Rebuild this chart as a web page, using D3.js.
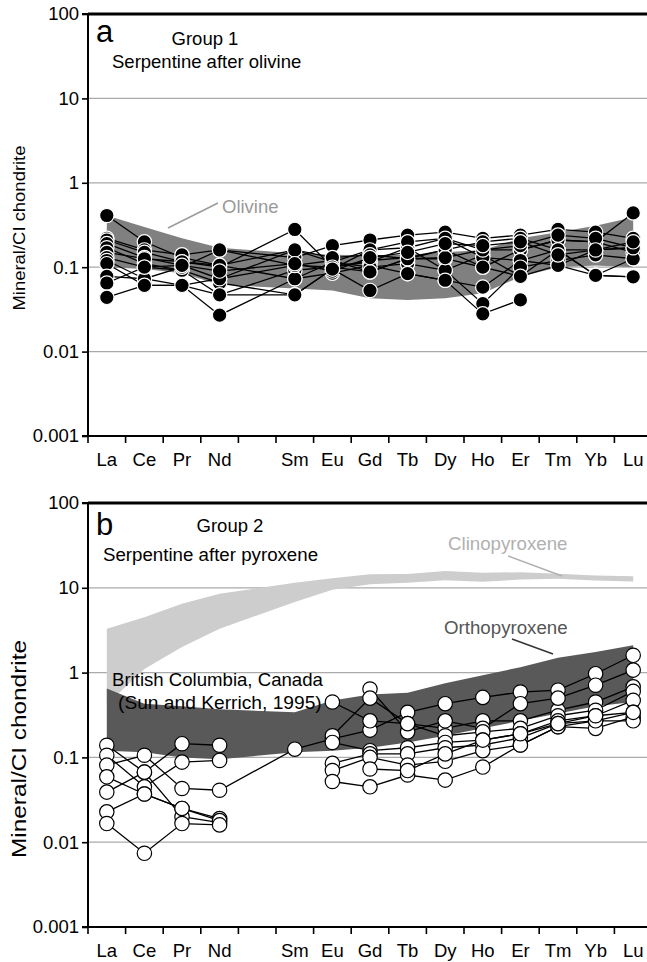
<!DOCTYPE html>
<html>
<head>
<meta charset="utf-8">
<script src="https://cdn.jsdelivr.net/npm/d3@7"></script>
<style>
body{margin:0;background:#fff}
text{font-family:"Liberation Sans",Arial,Helvetica,sans-serif}
</style>
</head>
<body>
<div id="chart"></div>
<script>
// axis slots (Pm left blank) and the elements that carry data
const slots = ["La","Ce","Pr","Nd","Pm","Sm","Eu","Gd","Tb","Dy","Ho","Er","Tm","Yb","Lu"];
const ree = ["La","Ce","Pr","Nd","Sm","Eu","Gd","Tb","Dy","Ho","Er","Tm","Yb","Lu"];
const yTicks = [0.001, 0.01, 0.1, 1, 10, 100];
const yTickLabels = ["0.001", "0.01", "0.1", "1", "10", "100"];
const gridValues = [0.01, 0.1, 1, 10];

// reference fields
const olivineUpper = [0.41, 0.30, 0.22, 0.17, 0.146, 0.14, 0.139, 0.14, 0.15, 0.16, 0.22, 0.26, 0.31, 0.39];
const olivineLower = [0.10, 0.095, 0.085, 0.062, 0.056, 0.053, 0.043, 0.041, 0.043, 0.049, 0.077, 0.10, 0.105, 0.10];
const cpxUpper = [3.3, 4.5, 6.5, 8.5, 11.5, 13, 14.4, 14.5, 15.8, 15, 15.3, 14.6, 14, 13.7];
const cpxLower = [0.42, 1.1, 2.0, 3.3, 6.8, 9.5, 11, 11.5, 12.3, 11.8, 12.5, 12.8, 12.2, 11.9];
const opxUpper = [0.65, 0.43, 0.40, 0.37, 0.34, 0.47, 0.55, 0.58, 0.75, 0.93, 1.16, 1.5, 1.75, 2.1];
const opxLower = [0.12, 0.115, 0.10, 0.095, 0.115, 0.12, 0.13, 0.15, 0.18, 0.22, 0.27, 0.33, 0.40, 0.45];

// Group 1: serpentine after olivine
const group1 = [
  [0.41, 0.20, 0.13, 0.105, 0.16, 0.115, 0.16, 0.17, 0.22, 0.16, 0.16, 0.21, 0.20, 0.44],
  [0.22, 0.16, 0.14, 0.16, 0.13, 0.18, 0.21, 0.24, 0.26, 0.22, 0.24, 0.28, 0.26, 0.22],
  [0.21, 0.15, 0.116, 0.10, 0.28, 0.10, 0.12, 0.13, 0.16, 0.20, 0.22, 0.16, 0.16, 0.17],
  [0.19, 0.13, 0.105, 0.073, 0.105, 0.12, 0.088, 0.126, 0.126, 0.10, 0.16, 0.21, 0.20, 0.15],
  [0.17, 0.11, 0.092, 0.047, 0.092, 0.10, 0.116, 0.17, 0.092, 0.14, 0.078, 0.16, 0.08, 0.126],
  [0.15, 0.126, 0.116, 0.105, 0.073, 0.085, 0.105, 0.084, 0.07, 0.058, 0.12, 0.105, 0.16, 0.17],
  [0.13, 0.10, 0.092, 0.065, 0.047, 0.095, 0.16, 0.20, 0.22, 0.13, 0.12, 0.16, 0.08, 0.077],
  [0.12, 0.073, 0.061, 0.027, 0.073, 0.115, 0.10, 0.11, 0.092, 0.037, 0.10, 0.12, 0.14, 0.126],
  [0.11, 0.061, 0.061, 0.073, 0.16, 0.13, 0.14, 0.126, 0.16, 0.10, 0.078, 0.105, 0.08, 0.077],
  [0.078, 0.073, 0.10, 0.16, 0.105, 0.10, 0.088, 0.126, 0.13, 0.16, 0.18, 0.24, 0.22, 0.17],
  [0.065, 0.10, 0.105, 0.09, 0.11, 0.09, 0.13, 0.15, 0.19, 0.18, 0.20, 0.14, 0.16, 0.20],
  [0.044, 0.061, 0.061, 0.047, 0.047, 0.095, 0.053, 0.084, 0.07, 0.028, 0.041, null, null, null]
];

// Group 2: serpentine after pyroxene
const group2 = [
  [0.139, 0.067, 0.145, 0.139, null, null, null, null, null, null, null, null, null, null],
  [0.106, 0.045, 0.088, 0.092, null, null, null, null, null, null, null, null, null, null],
  [0.081, 0.106, 0.043, 0.041, 0.125, 0.165, 0.21, 0.34, 0.43, 0.51, 0.59, 0.62, 0.97, 1.6],
  [0.059, 0.037, 0.025, 0.019, null, null, null, null, null, null, null, null, null, null],
  [0.039, 0.067, 0.020, 0.017, null, null, null, null, null, null, null, null, null, null],
  [0.0228, 0.037, 0.025, 0.018, null, null, null, null, null, null, null, null, null, null],
  [0.0166, 0.0074, 0.0166, 0.016, null, null, null, null, null, null, null, null, null, null],
  [null, null, null, null, null, 0.45, 0.27, 0.25, 0.22, 0.27, 0.27, 0.36, 0.45, 0.68],
  [null, null, null, null, null, null, 0.64, 0.20, 0.27, 0.22, 0.43, 0.50, 0.71, 1.07],
  [null, null, null, null, null, 0.18, 0.50, 0.25, 0.18, 0.20, 0.22, 0.31, 0.36, 0.60],
  [null, null, null, null, null, 0.15, 0.12, 0.13, 0.15, 0.16, 0.19, 0.27, 0.31, 0.47],
  [null, null, null, null, null, 0.085, 0.11, 0.11, 0.13, 0.14, 0.17, 0.25, 0.27, 0.34],
  [null, null, null, null, null, 0.07, 0.10, 0.081, 0.09, 0.12, 0.14, 0.23, 0.22, 0.30],
  [null, null, null, null, null, 0.052, 0.045, 0.062, 0.054, 0.077, 0.14, 0.23, 0.27, 0.27],
  [null, null, null, null, null, null, 0.073, 0.07, 0.11, 0.16, 0.19, 0.25, 0.31, 0.34]
];

const W = 647, H = 962;
const FONT = "Liberation Sans, Arial, Helvetica, sans-serif";
const svg = d3.select("#chart").append("svg").attr("width", W).attr("height", H);

const x = d3.scaleBand().domain(slots).range([88, 88 + 15 * 37.6]);
const cx = el => x(el) + x.bandwidth() / 2;

function drawPanel(cfg) {
  const y = d3.scaleLog().domain([0.001, 100]).range([cfg.bottom, cfg.top]);
  const g = svg.append("g");

  // grid
  g.selectAll(".grid").data(gridValues).enter().append("line")
    .attr("x1", 88).attr("x2", W)
    .attr("y1", d => y(d)).attr("y2", d => y(d))
    .attr("stroke", "#aaa").attr("stroke-width", 1.3);

  // reference fields
  cfg.bands.forEach(b => {
    const area = d3.area()
      .x((d, i) => cx(ree[i]))
      .y0((d, i) => y(b.lower[i]))
      .y1((d, i) => y(b.upper[i]));
    g.append("path").attr("d", area(ree)).attr("fill", b.color);
  });

  // notes with leader lines
  cfg.notes.forEach(n => {
    if (n.line) g.append("line")
      .attr("x1", n.line[0]).attr("y1", n.line[1]).attr("x2", n.line[2]).attr("y2", n.line[3])
      .attr("stroke", n.lineColor || n.color).attr("stroke-width", 1.4);
    g.append("text").attr("x", n.x).attr("y", n.y)
      .attr("font-size", n.size).attr("fill", n.color).text(n.text);
  });

  // samples
  const line = d3.line()
    .defined(d => d.v != null)
    .x(d => cx(d.el)).y(d => y(d.v));
  cfg.samples.forEach(s => {
    const pts = s.map((v, i) => ({el: ree[i], v: v}));
    const sg = g.append("g");
    sg.append("path").attr("d", line(pts))
      .attr("fill", "none").attr("stroke", "#000").attr("stroke-width", 1.3);
    sg.selectAll("circle").data(pts.filter(d => d.v != null)).enter().append("circle")
      .attr("cx", d => cx(d.el)).attr("cy", d => y(d.v)).attr("r", 7.2)
      .attr("fill", cfg.filled ? "#000" : "#fff")
      .attr("stroke", cfg.filled ? "#fff" : "#000")
      .attr("stroke-width", 1.2);
  });

  // top frame
  g.append("line").attr("x1", 88).attr("x2", W)
    .attr("y1", cfg.top).attr("y2", cfg.top)
    .attr("stroke", "#000").attr("stroke-width", 2.8);

  // y axis
  const yAxis = d3.axisLeft(y).tickValues(yTicks)
    .tickFormat((d, i) => yTickLabels[i]).tickSize(6).tickPadding(3);
  const ya = g.append("g").attr("transform", "translate(88,0)").call(yAxis);
  ya.select(".domain").attr("stroke-width", 2).attr("d", `M-6,${cfg.top}H0V${cfg.bottom}`);
  ya.selectAll(".tick line").attr("stroke-width", 1.6);
  ya.selectAll("text").attr("font-size", 18.5).attr("font-family", FONT).attr("fill", "#000");

  // x axis
  const xAxis = d3.axisBottom(x).tickFormat(d => d === "Pm" ? "" : d).tickSize(7).tickPadding(10);
  const xa = g.append("g").attr("transform", `translate(0,${cfg.bottom})`).call(xAxis);
  xa.select(".domain").attr("stroke-width", 2).attr("d", `M82,0H${W}`);
  xa.selectAll(".tick line").attr("stroke-width", 1.6).attr("x1", -x.bandwidth() / 2).attr("x2", -x.bandwidth() / 2);
  xa.selectAll("text").attr("font-size", 18.5).attr("font-family", FONT).attr("fill", "#000");

  // y title
  g.append("text")
    .attr("transform", `translate(${cfg.titleX},${cfg.titleY}) rotate(-90)`)
    .attr("text-anchor", "middle").attr("font-size", cfg.titleSize)
    .attr("textLength", cfg.titleLength).attr("lengthAdjust", "spacingAndGlyphs")
    .text("Mineral/CI chondrite");

  // panel letter and headings
  g.append("text").attr("x", 96).attr("y", cfg.letterY).attr("font-size", 31).text(cfg.letter);
  cfg.heads.forEach(h => {
    g.append("text").attr("x", h.x).attr("y", h.y).attr("font-size", h.size)
      .attr("text-anchor", h.anchor || "start").text(h.text);
  });
}

drawPanel({
  top: 14, bottom: 436, letter: "a", letterY: 42, filled: true,
  titleX: 25, titleY: 228, titleSize: 17, titleLength: 165,
  bands: [{upper: olivineUpper, lower: olivineLower, color: "#808080"}],
  notes: [{text: "Olivine", x: 222, y: 213, size: 18.5, color: "#9a9a9a", line: [168, 228, 218, 203]}],
  samples: group1,
  heads: [
    {text: "Group 1", x: 205, y: 45, size: 18.5, anchor: "middle"},
    {text: "Serpentine after olivine", x: 112, y: 68, size: 18.5}
  ]
});

drawPanel({
  top: 503, bottom: 927, letter: "b", letterY: 535, filled: false,
  titleX: 26, titleY: 749, titleSize: 19.5, titleLength: 218,
  bands: [
    {upper: cpxUpper, lower: cpxLower, color: "#cdcdcd"},
    {upper: opxUpper, lower: opxLower, color: "#595959"}
  ],
  notes: [
    {text: "Clinopyroxene", x: 448, y: 550, size: 18.7, color: "#b0b0b0", line: [508, 556, 562, 576]},
    {text: "Orthopyroxene", x: 444, y: 634, size: 18.7, color: "#555", line: [512, 639, 553, 654], lineColor: "#333"},
    {text: "British Columbia, Canada", x: 112, y: 686, size: 18.6, color: "#000"},
    {text: "(Sun and Kerrich, 1995)", x: 118, y: 709, size: 19.2, color: "#000"}
  ],
  samples: group2,
  heads: [
    {text: "Group 2", x: 230, y: 532, size: 18.5, anchor: "middle"},
    {text: "Serpentine after pyroxene", x: 103, y: 561, size: 18.7}
  ]
});
</script>
</body>
</html>
